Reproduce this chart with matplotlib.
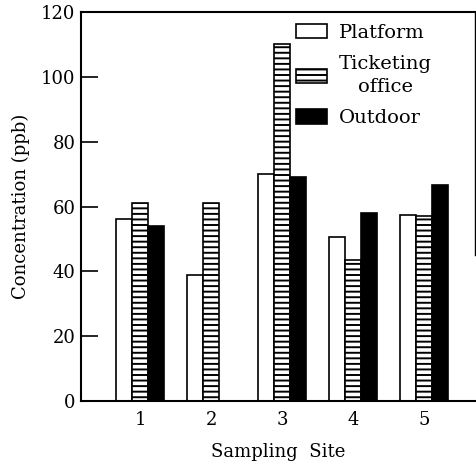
import numpy as np
import matplotlib
matplotlib.use('Agg')
import matplotlib.pyplot as plt

plt.rcParams['font.family'] = ['DejaVu Serif']
plt.rcParams['hatch.linewidth'] = 1.4

# 数据
sites = [1, 2, 3, 4, 5]
platform = [56, 39, 70, 50.5, 57.5]
ticketing = [61, 61, 110, 43.5, 57]
outdoor = [54, 0, 69, 58, 66.5]

fig = plt.figure(figsize=(4.77, 4.61), dpi=100)
ax = fig.add_axes([0.170, 0.130, 0.826, 0.844])

x = np.array(sites, dtype=float)
w = 0.225

ax.bar(x - w, platform, w, facecolor='white', edgecolor='black', linewidth=1.2, label='Platform')
ax.bar(x, ticketing, w, facecolor='white', edgecolor='black', linewidth=1.2, hatch='---', label='Ticketing\noffice')
ax.bar(x + w, outdoor, w, facecolor='black', edgecolor='black', linewidth=1.2, label='Outdoor')

ax.set_xlim(0.17, 5.72)
ax.set_ylim(0, 120)
ax.set_xticks(sites)
ax.set_yticks([0, 20, 40, 60, 80, 100, 120])
ax.tick_params(axis='y', direction='in', length=12, width=1.2, labelsize=13, pad=4)
ax.tick_params(axis='x', length=0, labelsize=13, pad=7)

for s in ax.spines.values():
    s.set_linewidth(1.5)
ax.spines['right'].set_bounds(45, 120)
ax.spines['right'].set_linewidth(1.0)

ax.set_xlabel('Sampling  Site', fontsize=13, labelpad=10)
ax.set_ylabel('Concentration (ppb)', fontsize=13, labelpad=8)

leg = ax.legend(loc='upper right', frameon=False, fontsize=14, handlelength=1.6,
                handleheight=0.75, labelspacing=0.68, handletextpad=0.6,
                borderaxespad=0.22, bbox_to_anchor=(0.92, 1.0))
for t in leg.get_texts():
    t.set_multialignment('center')
    t.set_linespacing(1.35)

fig.savefig('out.png', dpi=100)
